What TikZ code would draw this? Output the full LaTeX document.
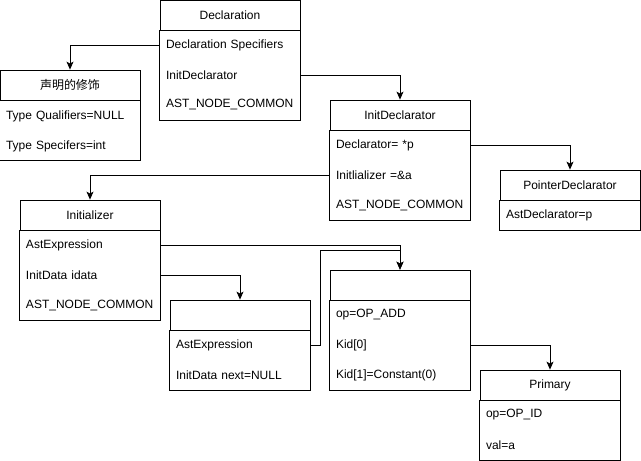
\documentclass[tikz,border=0pt]{standalone}
\usepackage{fontspec}
\setmainfont{Liberation Sans}
\newfontfamily\cjk{Noto Sans CJK SC}
\usetikzlibrary{arrows.meta}
\tikzset{
  head/.style={draw, minimum width=140pt, minimum height=30pt, inner sep=0pt},
  row/.style={text width=128pt, inner xsep=6pt, inner ysep=2pt, align=left},
  link/.style={-{Stealth[length=8pt,width=7pt,inset=2pt]}},
}

\begin{document}
\begin{tikzpicture}[x=1pt, y=-1pt, line width=0.8pt, font=\fontsize{12}{14}\selectfont]
			%%%%% START %%%%%
			\useasboundingbox (0,0) rectangle (641,461);
			
			% Declaration
			\node[head] (decl) at (230,15) {Declaration};
			\draw (decl.south west) rectangle (300,120);
			\node[row] (declspec) at (230,45) {Declaration Specifiers};
			\node[row] (declinit) at (230,75) {InitDeclarator};
			\node[row] (declcommon) at (230,105) {AST\_NODE\_COMMON};
			
			% qualifiers
			\node[head] (qual) at (70,85) {\cjk 声明的修饰};
			\draw (qual.south west) rectangle (140,160);
			\node[row] (qualnull) at (70,116) {Type Qualifiers=NULL};
			\node[row] (qualint) at (70,146) {Type Specifers=int};
			
			% InitDeclarator
			\node[head] (initdecl) at (400,115) {InitDeclarator};
			\draw (initdecl.south west) rectangle (470,220);
			\node[row] (dtor) at (400,145) {Declarator= *p};
			\node[row] (initlz) at (400,175) {Initlializer =\&a};
			\node[row] (initcommon) at (400,205) {AST\_NODE\_COMMON};
			
			% PointerDeclarator
			\node[head] (ptr) at (570,185) {PointerDeclarator};
			\draw (ptr.south west) rectangle (640,230);
			\node[row] (ptrdecl) at (570,215) {AstDeclarator=p};
			
			% Initializer
			\node[head] (init) at (90,215) {Initializer};
			\draw (init.south west) rectangle (160,320);
			\node[row] (astexpr) at (90,245) {AstExpression};
			\node[row] (idata) at (90,275) {InitData idata};
			\node[row] (initcommon2) at (90,305) {AST\_NODE\_COMMON};
			
			% InitData
			\node[head] (data) at (240,315) {};
			\draw (data.south west) rectangle (310,390);
			\node[row] (dataexpr) at (240,345) {AstExpression};
			\node[row] (datanext) at (240,375) {InitData next=NULL};
			
			% expression
			\node[head] (expr) at (400,285) {};
			\draw (expr.south west) rectangle (470,390);
			\node[row] (exprop) at (400,315) {op=OP\_ADD};
			\node[row] (kid) at (400,345) {Kid[0]};
			\node[row] (kidone) at (400,375) {Kid[1]=Constant(0)};
			
			% Primary
			\node[head] (prim) at (550,385) {Primary};
			\draw (prim.south west) rectangle (620,460);
			\node[row] (primop) at (550,415) {op=OP\_ID};
			\node[row] (primval) at (550,445) {val=a};
			
			% links
			\coordinate (join) at (400,250);
			\draw[link] (declspec.west) -| (qual.north);
			\draw[link] (declinit.east) -| (initdecl.north);
			\draw[link] (dtor.east) -| (ptr.north);
			\draw[link] (initlz.west) -| (init.north);
			\draw[link] (idata.east) -| (data.north);
			\draw[link] (astexpr.east) -| (expr.north);
			\draw[link] (dataexpr.east) -- ++(10,0) |- (join) -- (expr.north);
			\draw[link] (kid.east) -| (prim.north);
			
			%%%%% END %%%%%
\end{tikzpicture}
\end{document}
